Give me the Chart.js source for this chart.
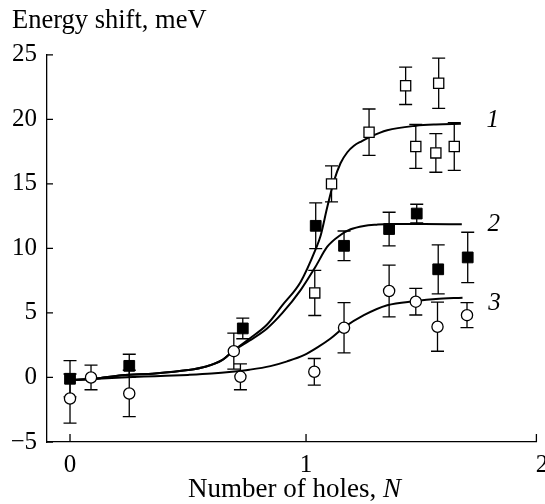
<!DOCTYPE html>
<html><head><meta charset="utf-8">
<script src="https://cdn.jsdelivr.net/npm/chart.js@4.4.1/dist/chart.umd.min.js"></script>
<style>html,body{margin:0;padding:0;background:#fff}#wrap{width:545px;height:504px}</style>
</head><body><div id="wrap"><canvas id="c" width="545" height="504"></canvas></div>
<script>
// ---- tick labels ----
const xTicks = [0, 1, 2];
const yTicks = [-5, 0, 5, 10, 15, 20, 25];

// ---- series 1 (open squares) ----
const s1X = [1.037, 1.108, 1.267, 1.422, 1.465, 1.550, 1.562, 1.628];
const s1Y = [6.55, 15.0, 19.0, 22.6, 17.9, 17.4, 22.8, 17.9];
const s1Err = [1.75, 1.4, 1.8, 1.45, 1.7, 1.5, 1.95, 1.85];

// ---- series 2 (filled squares) ----
const s2X = [0, 0.251, 0.732, 1.041, 1.161, 1.352, 1.469, 1.560, 1.685];
const s2Y = [-0.1, 0.9, 3.8, 11.75, 10.2, 11.5, 12.7, 8.38, 9.3];
const s2Err = [1.4, 0.9, 0.8, 1.77, 1.15, 1.3, 0.72, 1.9, 1.95];

// ---- series 3 (open circles) ----
const s3X = [0, 0.089, 0.251, 0.694, 0.722, 1.035, 1.161, 1.352, 1.465, 1.557, 1.682];
const s3Y = [-1.63, 0.0, -1.24, 2.04, 0.05, 0.44, 3.85, 6.7, 5.87, 3.93, 4.83];
const s3Err = [1.9, 0.95, 1.8, 1.4, 1.0, 1.03, 1.95, 2.0, 1.03, 1.9, 0.97];

// ---- fitted curves ----
const c1X = [0, 0.1, 0.22, 0.36, 0.50, 0.573, 0.644, 0.695, 0.76, 0.835, 0.90, 0.977, 1.040, 1.062, 1.09, 1.118, 1.146, 1.175, 1.203, 1.235, 1.267, 1.344, 1.465, 1.55, 1.656];
const c1Y = [-0.2, -0.1, 0.18, 0.31, 0.57, 0.83, 1.34, 2.12, 3.0, 4.1, 5.6, 7.4, 9.9, 11.0, 13.2, 15.2, 16.6, 17.45, 17.95, 18.3, 18.6, 19.15, 19.5, 19.6, 19.65];
const c2X = [0, 0.1, 0.22, 0.36, 0.50, 0.573, 0.644, 0.695, 0.76, 0.835, 0.90, 0.977, 1.040, 1.09, 1.146, 1.189, 1.245, 1.30, 1.352, 1.50, 1.66];
const c2Y = [-0.2, -0.1, 0.18, 0.31, 0.57, 0.83, 1.34, 2.1, 2.85, 3.8, 5.0, 6.77, 8.58, 10.13, 11.04, 11.48, 11.74, 11.84, 11.89, 11.89, 11.87];
const c3X = [0, 0.22, 0.36, 0.50, 0.60, 0.686, 0.76, 0.849, 0.92, 0.991, 1.05, 1.104, 1.161, 1.245, 1.344, 1.465, 1.55, 1.663];
const c3Y = [-0.2, 0.0, 0.1, 0.2, 0.3, 0.44, 0.6, 0.88, 1.25, 1.73, 2.35, 3.02, 3.88, 4.83, 5.6, 5.92, 6.08, 6.18];
const curveNames = ['1', '2', '3'];

const FONT = '"Liberation Serif", "Times New Roman", serif';
const labelOffsets = [[32, -3], [32, 0], [32, 6]];

function pts(xs, ys) { return xs.map((x, i) => ({ x: x, y: ys[i] })); }

const errorBars = {
  id: 'errorBars',
  beforeDatasetsDraw(chart) {
    const ctx = chart.ctx, xs = chart.scales.x, ys = chart.scales.y;
    ctx.save();
    ctx.strokeStyle = '#000';
    ctx.lineWidth = 1.3;
    chart.data.datasets.forEach(ds => {
      if (!ds.errors) return;
      ds.data.forEach((p, i) => {
        const e = ds.errors[i];
        const px = xs.getPixelForValue(p.x);
        const y1 = ys.getPixelForValue(p.y - e), y2 = ys.getPixelForValue(p.y + e);
        ctx.beginPath();
        ctx.moveTo(px, y1); ctx.lineTo(px, y2);
        ctx.moveTo(px - 6.5, y1); ctx.lineTo(px + 6.5, y1);
        ctx.moveTo(px - 6.5, y2); ctx.lineTo(px + 6.5, y2);
        ctx.stroke();
      });
    });
    ctx.restore();
  }
};

const extras = {
  id: 'extras',
  afterDraw(chart) {
    const ctx = chart.ctx, a = chart.chartArea, xs = chart.scales.x, ys = chart.scales.y;
    ctx.save();
    ctx.strokeStyle = '#000';
    ctx.lineWidth = 1.3;
    ctx.beginPath();
    yTicks.forEach(v => { const py = ys.getPixelForValue(v); ctx.moveTo(a.left, py); ctx.lineTo(a.left + 6, py); });
    xTicks.forEach(v => { const px = Math.min(xs.getPixelForValue(v), a.right); ctx.moveTo(px, a.bottom); ctx.lineTo(px, a.bottom - 8); });
    ctx.stroke();

    // x axis title with italic N
    ctx.fillStyle = '#000';
    ctx.textBaseline = 'alphabetic';
    ctx.textAlign = 'left';
    const t1 = 'Number of holes, ', t2 = 'N';
    ctx.font = '27px ' + FONT;
    const w1 = ctx.measureText(t1).width;
    ctx.font = 'italic 27px ' + FONT;
    const w2 = ctx.measureText(t2).width;
    const cx = (a.left + xs.getPixelForValue(xTicks[xTicks.length - 1])) / 2;
    const x0 = cx - (w1 + w2) / 2;
    const by = a.bottom + 55;
    ctx.font = '27px ' + FONT;
    ctx.fillText(t1, x0, by);
    ctx.font = 'italic 27px ' + FONT;
    ctx.fillText(t2, x0 + w1, by);

    // curve labels
    ctx.font = 'italic 25px ' + FONT;
    ctx.textAlign = 'center';
    ctx.textBaseline = 'middle';
    const curves = [[c1X, c1Y], [c2X, c2Y], [c3X, c3Y]];
    curves.forEach((c, i) => {
      const n = c[0].length - 1;
      const px = xs.getPixelForValue(c[0][n]) + labelOffsets[i][0];
      const py = ys.getPixelForValue(c[1][n]) + labelOffsets[i][1];
      ctx.fillText(curveNames[i], px, py);
    });
    ctx.restore();
  }
};

const lineDs = (xs, ys) => ({
  data: pts(xs, ys), showLine: true, pointRadius: 0, borderColor: '#000', borderWidth: 2,
  cubicInterpolationMode: 'monotone', fill: false, order: 2
});

new Chart(document.getElementById('c'), {
  type: 'scatter',
  data: {
    datasets: [
      { data: pts(s1X, s1Y), errors: s1Err, pointStyle: 'rect', pointRadius: 7.2, pointBackgroundColor: '#fff', pointBorderColor: '#000', pointBorderWidth: 1.3, order: 0 },
      { data: pts(s2X, s2Y), errors: s2Err, pointStyle: 'rect', pointRadius: 7.6, pointBackgroundColor: '#000', pointBorderColor: '#000', pointBorderWidth: 1, order: 0 },
      { data: pts(s3X, s3Y), errors: s3Err, pointStyle: 'circle', pointRadius: 5.6, pointBackgroundColor: '#fff', pointBorderColor: '#000', pointBorderWidth: 1.3, order: 0 },
      lineDs(c1X, c1Y),
      lineDs(c2X, c2Y),
      lineDs(c3X, c3Y)
    ]
  },
  options: {
    responsive: false,
    animation: false,
    events: [],
    devicePixelRatio: 1,
    layout: { padding: { left: 12, right: 4, top: 0, bottom: 0 } },
    plugins: {
      legend: { display: false },
      tooltip: { enabled: false },
      title: {
        display: true, text: 'Energy shift, meV', align: 'start', color: '#000',
        font: { family: FONT, size: 26.5, weight: 'normal', lineHeight: 1.2 },
        padding: { top: 5, bottom: 18 }
      }
    },
    scales: {
      x: {
        type: 'linear', min: -0.0975, max: 1.976,
        afterBuildTicks: s => { s.ticks = xTicks.map(v => ({ value: v })); },
        afterFit: s => { s.height = 62; s.paddingLeft = 0; s.paddingRight = 4; },
        grid: { display: false, drawTicks: false },
        border: { display: true, color: '#000', width: 1.3 },
        ticks: { color: '#000', font: { family: FONT, size: 25 }, padding: 8, maxRotation: 0, autoSkip: false }
      },
      y: {
        type: 'linear', min: -5, max: 25,
        afterBuildTicks: s => { s.ticks = yTicks.map(v => ({ value: v })); },
        afterFit: s => { s.width = 35; s.paddingTop = 0; s.paddingBottom = 0; },
        grid: { display: false, drawTicks: false },
        border: { display: true, color: '#000', width: 1.3 },
        ticks: { color: '#000', font: { family: FONT, size: 25 }, padding: 10,
          callback: v => v < 0 ? '\u2212' + Math.abs(v) : String(v) }
      }
    }
  },
  plugins: [errorBars, extras]
});
</script></body></html>
